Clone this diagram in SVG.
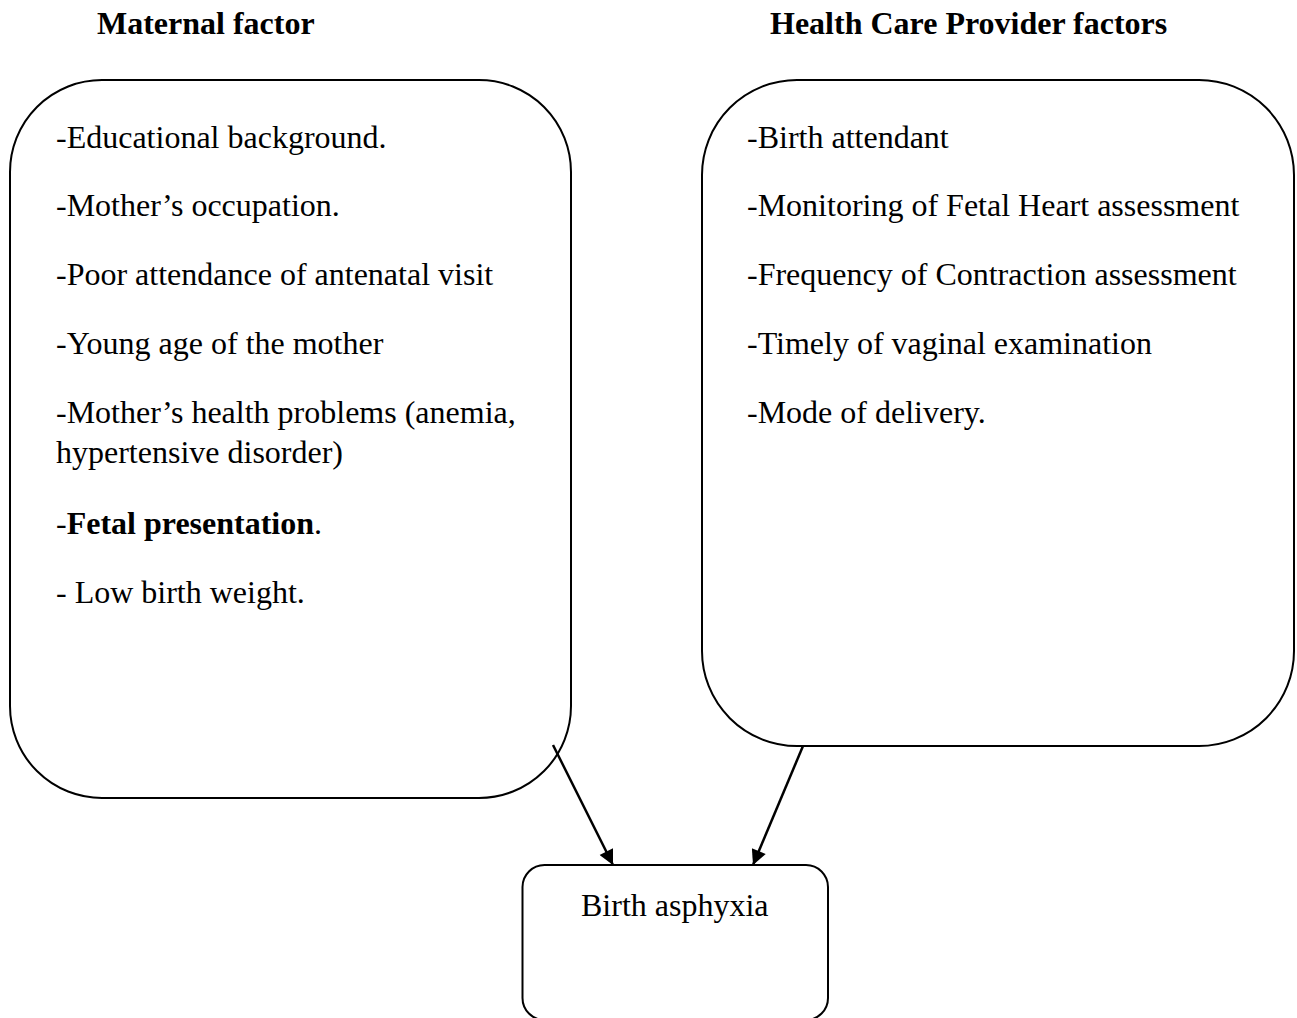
<svg xmlns="http://www.w3.org/2000/svg" width="1297" height="1018" viewBox="0 0 1297 1018">
<style>
text{font-family:"Liberation Serif","Times New Roman",serif;font-size:32px;fill:#000}
.t{font-weight:bold}
.box{fill:none;stroke:#000;stroke-width:2}
.conn{stroke:#000;stroke-width:2.5;fill:none}
</style>
<defs>
<marker id="ah" viewBox="0 0 10 10" refX="10" refY="5" markerUnits="userSpaceOnUse" markerWidth="17" markerHeight="15" orient="auto">
<path d="M0,0 L10,5 L0,10 z" fill="#000"/>
</marker>
</defs>
<rect width="1297" height="1018" fill="#fff"/>
<text class="t" x="97" y="34">Maternal factor</text>
<text class="t" x="770" y="34">Health Care Provider factors</text>
<g id="maternal">
<rect class="box" x="10" y="80" width="561" height="718" rx="92" ry="92"/>
<text x="56" y="148">-Educational background.</text>
<text x="56" y="216">-Mother’s occupation.</text>
<text x="56" y="285">-Poor attendance of antenatal visit</text>
<text x="56" y="354">-Young age of the mother</text>
<text x="56" y="423">-Mother’s health problems (anemia,</text>
<text x="56" y="463">hypertensive disorder)</text>
<text x="56" y="534">-<tspan font-weight="bold">Fetal presentation</tspan>.</text>
<text x="56" y="603">- Low birth weight.</text>
</g>
<g id="provider">
<rect class="box" x="702" y="80" width="592" height="666" rx="95" ry="95"/>
<text x="747" y="148">-Birth attendant</text>
<text x="747" y="216">-Monitoring of Fetal Heart assessment</text>
<text x="747" y="285">-Frequency of Contraction assessment</text>
<text x="747" y="354">-Timely of vaginal examination</text>
<text x="747" y="423">-Mode of delivery.</text>
</g>
<g id="outcome">
<rect class="box" x="522.5" y="865" width="305.5" height="155" rx="22" ry="22"/>
<text x="581" y="916">Birth asphyxia</text>
</g>
<g id="connectors">
<line class="conn" x1="553" y1="745" x2="613" y2="865" marker-end="url(#ah)"/>
<line class="conn" x1="803" y1="746" x2="753" y2="865" marker-end="url(#ah)"/>
</g>
</svg>
